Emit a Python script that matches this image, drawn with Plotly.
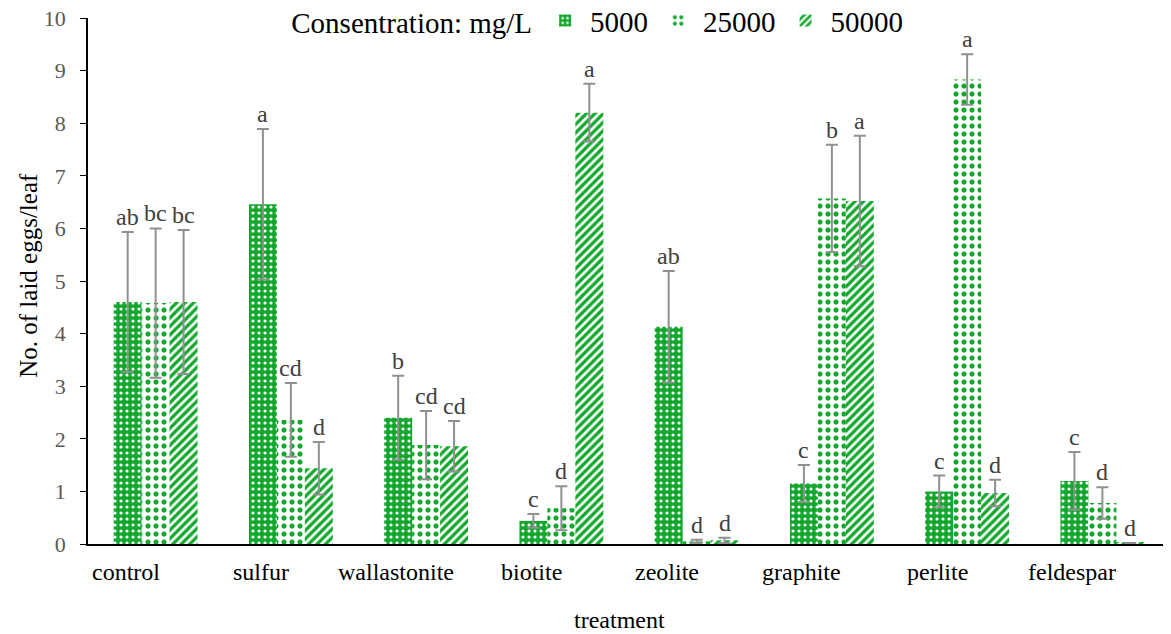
import plotly.graph_objects as go

categories = ["control", "sulfur", "wallastonite", "biotite", "zeolite", "graphite", "perlite", "feldespar"]
series_names = ["5000", "25000", "50000"]

v5000 = [4.60, 6.46, 2.40, 0.44, 4.13, 1.15, 1.00, 1.20]
v25000 = [4.58, 2.36, 1.88, 0.68, 0.05, 6.57, 8.83, 0.78]
v50000 = [4.60, 1.44, 1.86, 8.20, 0.07, 6.52, 0.97, 0.02]

e5000 = [1.33, 1.43, 0.80, 0.13, 1.06, 0.35, 0.30, 0.55]
e25000 = [1.42, 0.70, 0.65, 0.42, 0.03, 1.02, 0.48, 0.30]
e50000 = [1.37, 0.50, 0.48, 0.55, 0.05, 1.24, 0.25, 0.00]

l5000 = ["ab", "a", "b", "c", "ab", "c", "c", "c"]
l25000 = ["bc", "cd", "cd", "d", "d", "b", "a", "d"]
l50000 = ["bc", "d", "cd", "a", "d", "a", "d", "d"]

GREEN = "#14a72e"
FONT = "Liberation Serif, Times New Roman, serif"

patterns = [
    dict(shape=".", fgcolor="white", bgcolor=GREEN, size=6, solidity=0.22, fillmode="replace"),
    dict(shape=".", fgcolor=GREEN, bgcolor="white", size=8, solidity=0.32, fillmode="replace"),
    dict(shape="/", fgcolor=GREEN, bgcolor="white", size=6, solidity=0.55, fillmode="replace"),
]

fig = go.Figure()
values = [v5000, v25000, v50000]
errors = [e5000, e25000, e50000]
letters = [l5000, l25000, l50000]

for i, name in enumerate(series_names):
    fig.add_trace(go.Bar(
        x=categories, y=values[i], name=name,
        marker=dict(color=GREEN, pattern=patterns[i], line=dict(width=0)),
        error_y=dict(type="data", array=errors[i], visible=True,
                     color="#909090", thickness=2, width=6),
        offsetgroup=str(i),
    ))

# significance letters
offsets = [-28, 0, 28]
for i in range(3):
    for c, v, e, t in zip(categories, values[i], errors[i], letters[i]):
        fig.add_annotation(x=c, y=v + e, text=t, showarrow=False,
                           xshift=offsets[i], yshift=0, yanchor="bottom",
                           font=dict(family=FONT, size=24, color="#404040"))

# category labels (shifted left like the reference)
for c in categories:
    fig.add_annotation(x=c, y=0, yref="y", text=c, showarrow=False,
                       xshift=-30, yshift=-28, yanchor="middle",
                       font=dict(family=FONT, size=24, color="black"))

# axis titles
fig.add_annotation(x=0.4908, y=-0.1445, xref="paper", yref="paper", yanchor="middle",
                   text="treatment", showarrow=False, font=dict(family=FONT, size=24, color="black"))
fig.add_annotation(xref="paper", yref="paper", x=-0.0545, y=0.51, text="No. of laid eggs/leaf",
                   textangle=-90, showarrow=False, xanchor="center", yanchor="middle",
                   font=dict(family=FONT, size=25, color="black"))

fig.update_layout(
    width=1171, height=634,
    margin=dict(l=80, r=9, t=10, b=98, autoexpand=False),
    paper_bgcolor="white", plot_bgcolor="white",
    barmode="group", bargap=0.38, bargroupgap=0,
    font=dict(family=FONT, color="black"),
    showlegend=True,
    legend=dict(orientation="h", x=0.186, xanchor="left", y=0.995, yanchor="middle",
                title=dict(text="Consentration: mg/L", font=dict(size=29, family=FONT, color="black")),
                font=dict(size=29, family=FONT, color="black"),
                itemwidth=40, bgcolor="rgba(0,0,0,0)"),
    xaxis=dict(showticklabels=False, ticks="", showline=True, linecolor="black", linewidth=1.5,
               automargin=False),
    yaxis=dict(range=[0, 10], dtick=1, ticks="outside", ticklen=6, tickcolor="black",
               showline=True, linecolor="black", linewidth=1.5, showgrid=False, zeroline=False,
               automargin=False, ticklabelstandoff=10, ticklabeloverflow="allow",
               tickfont=dict(size=22, family=FONT, color="#595959")),
)

fig.write_html("out.html")
